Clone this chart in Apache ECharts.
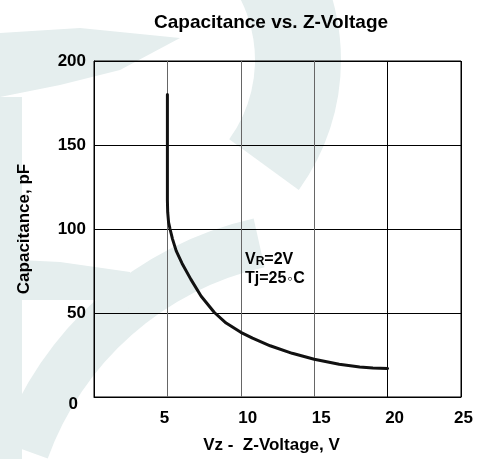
<!DOCTYPE html>
<html>
<head>
<meta charset="utf-8">
<script src="https://cdn.jsdelivr.net/npm/echarts@6/dist/echarts.min.js"></script>
<style>
html,body{margin:0;padding:0;background:#fff;}
#c{width:477px;height:459px;}
</style>
</head>
<body>
<div id="c"></div>
<script>
// Data
const voltage = [5, 5, 5.02, 5.08, 5.18, 5.35, 5.6, 6.0, 6.6, 7.3, 8.2, 9.0, 10.0, 10.8, 12.0, 13.5, 15.0, 16.7, 18.1, 19.0, 20.0];
const capacitance = [180, 117, 110, 104, 100, 94, 87, 79.5, 70, 60, 50.3, 44, 38.5, 35, 30.5, 26, 22.5, 19.5, 17.9, 17.3, 17.0];
const xTicks = [0, 5, 10, 15, 20, 25];
const yTicks = [0, 50, 100, 150, 200];
const titleText = 'Capacitance vs. Z-Voltage';
const xName = 'Vz -  Z-Voltage, V';
const yName = 'Capacitance, pF';

const FONT = '"Liberation Sans", Arial, sans-serif';
const lbl = { fontFamily: FONT, fontWeight: 'bold', fontSize: 17, color: '#000' };
const WM = '#e5eeee';

const chart = echarts.init(document.getElementById('c'), null, { renderer: 'canvas' });
chart.setOption({
  backgroundColor: '#fff',
  animation: false,
  title: {
    text: titleText,
    left: 149, top: 8,
    textStyle: { fontFamily: FONT, fontWeight: 'bold', fontSize: 19, color: '#000' }
  },
  grid: { left: 94, right: 16, top: 61, bottom: 62, show: true, borderColor: '#000', borderWidth: 1, backgroundColor: 'transparent' },
  xAxis: {
    type: 'value', min: xTicks[0], max: xTicks[xTicks.length - 1], interval: 5,
    name: xName, nameLocation: 'middle', nameGap: 40,
    nameTextStyle: Object.assign({}, lbl, { padding: [0, 12, 0, 0] }),
    axisLine: { show: true, lineStyle: { color: '#000', width: 1 } },
    axisTick: { show: false },
    splitLine: { show: true, lineStyle: { color: ['#000', '#666', '#666', '#666', '#000', '#000'], width: 1 } },
    axisLabel: Object.assign({}, lbl, {
      margin: 13,
      formatter: v => v === 0 ? '' : (v === 5 ? '{l|5}' : (v === 25 ? '{m|25}' : '{r|' + v + '}')),
      rich: {
        l: Object.assign({}, lbl, { padding: [0, 6, 0, 0] }),
        m: Object.assign({}, lbl, { padding: [0, 0, 0, 5] }),
        r: Object.assign({}, lbl, { padding: [0, 0, 0, 14] })
      }
    })
  },
  yAxis: {
    type: 'value', min: yTicks[0], max: yTicks[yTicks.length - 1], interval: 50,
    name: yName, nameLocation: 'middle', nameGap: 61, nameRotate: 90,
    nameTextStyle: lbl,
    axisLine: { show: true, lineStyle: { color: '#000', width: 1 } },
    axisTick: { show: false },
    splitLine: { show: true, lineStyle: { color: '#000', width: 1 } },
    axisLabel: Object.assign({}, lbl, {
      margin: 8,
      formatter: v => v === 0 ? '{z|0}' : String(v),
      rich: { z: Object.assign({}, lbl, { padding: [14, 8, 0, 0] }) }
    })
  },
  graphic: [
    // faint background watermark (decorative)
    { type: 'sector', silent: true, z: -100, shape: { cx: 120, cy: 60, r0: 135, r: 221, startAngle: -Math.PI / 2, endAngle: Math.PI * 0.2 }, style: { fill: WM } },
    { type: 'sector', silent: true, z: -100, shape: { cx: 330, cy: 560, r0: 300, r: 350, startAngle: -Math.PI * 0.89, endAngle: -Math.PI * 0.57 }, style: { fill: WM } },
    { type: 'polygon', silent: true, z: -100, shape: { points: [[0, 259], [60, 262], [130, 272], [127, 330], [100, 300], [0, 300]] }, style: { fill: WM } },
    { type: 'polygon', silent: true, z: -100, shape: { points: [[0, 33], [80, 28], [180, 38], [120, 70], [60, 85], [0, 97]] }, style: { fill: WM } },
    { type: 'rect', silent: true, z: -100, shape: { x: 0, y: 97, width: 22, height: 362 }, style: { fill: WM } },
    {
      type: 'text', left: 245, top: 252, z: 10,
      style: {
        text: '{a|V}{s|R}{a|=2V}\n{a|Tj=25}{d|\u25E6}{a|C}',
        rich: {
          a: Object.assign({}, lbl, { fontSize: 16, lineHeight: 19 }),
          s: Object.assign({}, lbl, { fontSize: 12, lineHeight: 19, verticalAlign: 'middle', padding: [3, 0, 0, 0] }),
          d: Object.assign({}, lbl, { fontSize: 14, fontWeight: 'normal', lineHeight: 19, padding: [0, 1, 0, 1] })
        }
      }
    }
  ],
  series: [{
    type: 'line',
    data: voltage.map((x, i) => [x, capacitance[i]]),
    showSymbol: false, smooth: false,
    lineStyle: { color: '#111', width: 3, cap: 'round', join: 'round' },
    z: 5
  }]
});
</script>
</body>
</html>
